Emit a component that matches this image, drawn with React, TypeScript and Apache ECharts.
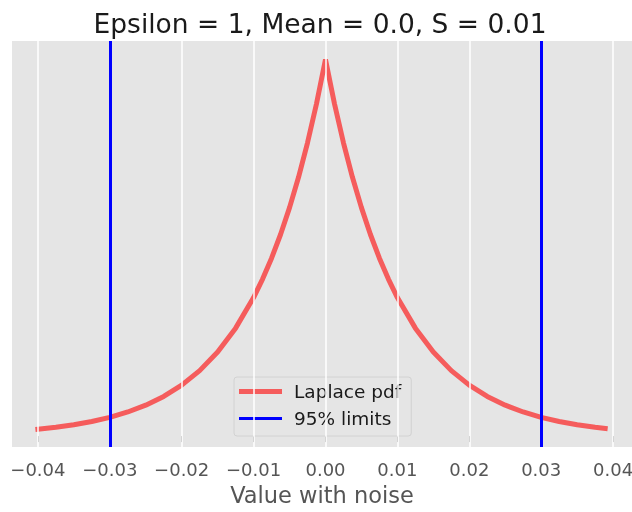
import React, { useEffect, useRef } from "react";
import * as echarts from "echarts";

const titleText = "Epsilon = 1, Mean = 0.0, S = 0.01";
const xAxisLabel = "Value with noise";
const xTickValues = [-0.04, -0.03, -0.02, -0.01, 0.0, 0.01, 0.02, 0.03, 0.04];

// Laplace pdf curve
const xValues = [
  -0.04, -0.0375, -0.035, -0.0325, -0.03, -0.0275, -0.025, -0.0225, -0.02, -0.0175,
  -0.015, -0.0125, -0.01, -0.00875, -0.0075, -0.00625, -0.005, -0.00375, -0.0025, -0.00125,
  0.0,
  0.00125, 0.0025, 0.00375, 0.005, 0.00625, 0.0075, 0.00875, 0.01, 0.0125,
  0.015, 0.0175, 0.02, 0.0225, 0.025, 0.0275, 0.03, 0.0325, 0.035, 0.0375, 0.0389,
];
const pdfValues = [
  0.92, 1.18, 1.51, 1.94, 2.49, 3.2, 4.1, 5.27, 6.77, 8.69,
  11.16, 14.33, 18.39, 20.84, 23.62, 26.76, 30.33, 34.36, 38.94, 44.12,
  50.0,
  44.12, 38.94, 34.36, 30.33, 26.76, 23.62, 20.84, 18.39, 14.33,
  11.16, 8.69, 6.77, 5.27, 4.1, 3.2, 2.49, 1.94, 1.51, 1.18, 1.02,
];
const limits = [-0.03, 0.03];
const seriesNames = ["Laplace pdf", "95% limits"];

export default function App() {
  const ref = useRef<HTMLDivElement>(null);
  useEffect(() => {
    if (!ref.current) return;
    const chart = echarts.init(ref.current, undefined, { renderer: "svg" });
    const font = "DejaVu Sans";
    chart.setOption({
      animation: false,
      title: {
        text: titleText,
        left: 315,
        top: 5,
        textAlign: "center",
        textStyle: { fontSize: 26.5, fontWeight: "normal", color: "#1a1a1a", fontFamily: font },
      },
      grid: {
        left: 12,
        right: 0,
        top: 41,
        bottom: 65,
        show: true,
        backgroundColor: "#e5e5e5",
        borderWidth: 0,
        outerBoundsMode: "none",
        containLabel: false,
      },
      legend: {
        orient: "vertical",
        left: 234,
        top: 377,
        padding: [5, 10, 8, 5],
        itemGap: 8,
        itemWidth: 43,
        itemHeight: 22,
        backgroundColor: "rgba(229,229,229,0.8)",
        borderColor: "#d2d2d2",
        borderWidth: 1,
        borderRadius: 3,
        textStyle: { fontSize: 18.5, color: "#1a1a1a", fontFamily: font, padding: [0, 0, 0, 7] },
        data: [
          {
            name: seriesNames[0],
            icon: "path://M0,0H43V5H0Z",
            itemStyle: { color: "#ff0000", opacity: 0.6 },
          },
          {
            name: seriesNames[1],
            icon: "path://M0,0H43V3H0Z",
            itemStyle: { color: "#0000ff" },
          },
        ],
      },
      xAxis: {
        type: "value",
        min: -0.0436,
        max: 0.04263,
        name: xAxisLabel,
        nameLocation: "middle",
        nameGap: 36,
        nameTextStyle: { fontSize: 22.5, color: "#555555", fontFamily: font },
        axisLine: { show: false },
        axisTick: {
          show: true,
          length: 6,
          lineStyle: { color: "#555555", width: 1 },
          customValues: xTickValues,
        },
        axisLabel: {
          color: "#555555",
          fontSize: 18,
          fontFamily: font,
          margin: 13,
          formatter: (v: number) => {
            const s = Math.abs(v).toFixed(2);
            return v < -1e-9 ? "\u2212" + s : s;
          },
          customValues: xTickValues,
        },
        splitLine: { show: false },
      },
      yAxis: {
        type: "value",
        min: -1.45,
        max: 52.45,
        show: false,
        splitLine: { show: false },
      },
      series: [
        {
          name: "grid",
          type: "line",
          data: [],
          symbol: "none",
          z: 1,
          silent: true,
          markLine: {
            silent: true,
            symbol: "none",
            label: { show: false },
            lineStyle: { color: "#ffffff", width: 1.5, type: "solid" },
            data: xTickValues.map((v) => ({ xAxis: v })),
          },
        },
        {
          name: seriesNames[0],
          type: "line",
          data: xValues.map((x, i) => [x, pdfValues[i]]),
          showSymbol: false,
          symbol: "none",
          smooth: false,
          color: "#ff0000",
          lineStyle: { color: "#ff0000", width: 5, opacity: 0.6, cap: "square" },
          z: 3,
        },
        {
          name: seriesNames[1],
          type: "line",
          data: [],
          symbol: "none",
          color: "#0000ff",
          lineStyle: { color: "#0000ff", width: 3 },
          z: 2,
          markLine: {
            silent: true,
            symbol: "none",
            label: { show: false },
            lineStyle: { color: "#0000ff", width: 3, type: "solid" },
            data: limits.map((v) => ({ xAxis: v })),
          },
        },
      ],
    });
    return () => chart.dispose();
  }, []);
  return (
    <div
      ref={ref}
      style={{ position: "fixed", left: 0, top: 0, width: 632, height: 512 }}
    />
  );
}
